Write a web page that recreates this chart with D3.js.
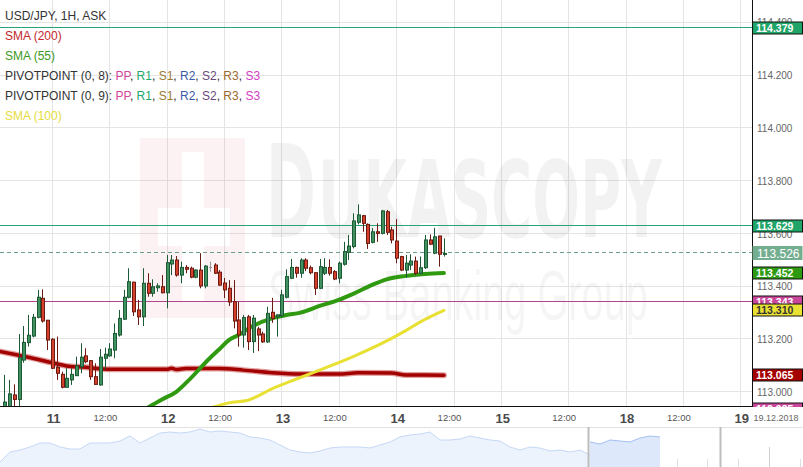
<!DOCTYPE html>
<html><head><meta charset="utf-8">
<script src="https://cdn.jsdelivr.net/npm/d3@7"></script>
<style>body{margin:0;background:#fff}svg{display:block;font-family:"Liberation Sans",Arial,sans-serif}</style>
</head><body><svg id="c" width="803" height="467"></svg>
<script>
// ---- DATA ----
const startHour = -10; // first visible candle, hours from 11 Dec 00:00 (weekend removed)
const opens = [112.941,112.933,112.990,112.973,113.122,113.188,113.213,113.284,113.356,113.273,
113.201,113.095,113.068,113.019,113.047,113.063,113.097,113.138,113.120,113.059,
113.028,113.129,113.138,113.160,113.217,113.277,113.360,113.417,113.312,113.286,
113.413,113.375,113.396,113.400,113.377,113.486,113.501,113.444,113.473,113.470,
113.436,113.463,113.403,113.476,113.482,113.455,113.414,113.394,113.343,113.274,
113.217,113.286,113.192,113.240,113.221,113.191,113.303,113.286,113.290,113.360,
113.432,113.473,113.451,113.501,113.472,113.453,113.394,113.451,113.473,113.457,
113.432,113.485,113.530,113.552,113.644,113.669,113.636,113.568,113.608,113.602,
113.684,113.615,113.573,113.514,113.463,113.482,113.497,113.451,113.472,113.577,
113.527,113.592,113.524];
const highs = [113.066,113.047,113.030,113.221,113.251,113.293,113.297,113.388,113.390,113.274,
113.205,113.211,113.078,113.091,113.091,113.135,113.186,113.167,113.122,113.110,
113.164,113.169,113.186,113.261,113.312,113.388,113.470,113.419,113.350,113.470,
113.451,113.428,113.413,113.444,113.520,113.520,113.516,113.495,113.482,113.476,
113.466,113.527,113.482,113.495,113.489,113.463,113.433,113.425,113.425,113.343,
113.293,113.293,113.293,113.248,113.230,113.324,113.358,113.295,113.388,113.466,
113.505,113.476,113.508,113.508,113.480,113.455,113.505,113.508,113.504,113.463,
113.495,113.570,113.596,113.678,113.712,113.672,113.640,113.622,113.640,113.691,
113.691,113.627,113.656,113.517,113.520,113.523,113.514,113.514,113.596,113.598,
113.623,113.593,113.583];
const lows = [112.914,112.925,112.933,112.937,113.112,113.173,113.208,113.280,113.264,113.160,
113.088,113.047,113.015,113.017,113.028,113.062,113.072,113.110,113.047,113.028,
113.025,113.087,113.135,113.129,113.211,113.274,113.356,113.289,113.255,113.251,
113.362,113.362,113.381,113.375,113.318,113.444,113.438,113.413,113.451,113.432,
113.432,113.394,113.394,113.457,113.448,113.403,113.357,113.327,113.242,113.173,
113.169,113.160,113.149,113.156,113.187,113.187,113.263,113.211,113.283,113.356,
113.429,113.434,113.434,113.459,113.447,113.369,113.391,113.444,113.442,113.425,
113.413,113.480,113.501,113.545,113.636,113.608,113.543,113.564,113.570,113.598,
113.596,113.564,113.489,113.459,113.434,113.463,113.444,113.447,113.467,113.558,
113.523,113.476,113.514];
const closes = [112.963,112.994,112.973,113.131,113.189,113.216,113.284,113.360,113.270,113.198,
113.091,113.072,113.019,113.053,113.068,113.100,113.133,113.116,113.059,113.030,
113.133,113.144,113.164,113.223,113.280,113.360,113.419,113.305,113.286,113.413,
113.375,113.400,113.403,113.377,113.491,113.501,113.444,113.473,113.466,113.436,
113.463,113.403,113.478,113.476,113.451,113.406,113.388,113.342,113.270,113.217,
113.283,113.192,113.281,113.217,113.191,113.299,113.280,113.293,113.369,113.438,
113.473,113.451,113.501,113.470,113.453,113.394,113.476,113.473,113.451,113.429,
113.489,113.533,113.554,113.649,113.672,113.640,113.564,113.608,113.602,113.687,
113.606,113.577,113.508,113.463,113.489,113.497,113.451,113.472,113.577,113.561,
113.589,113.523,113.526];

const sma200Hours = [-11,-5,0,3,7,10,13,24,25,26,28,35,40,46,52,60,64,71,74,82];
const sma200 = [113.155,113.133,113.112,113.100,113.095,113.089,113.087,113.087,113.091,113.086,113.090,113.090,113.084,113.074,113.069,113.069,113.074,113.073,113.066,113.065];
const sma55Hours = [20,23,26,29,33,35,37,39,42,46,49,52,56,60,63,67,70,74,78,82];
const sma55 = [112.942,112.973,113.002,113.053,113.129,113.163,113.198,113.217,113.251,113.280,113.293,113.302,113.327,113.350,113.373,113.407,113.428,113.441,113.448,113.452];
const sma100Hours = [32,37,41,46,50,56,63,73,77,82];
const sma100 = [112.933,112.960,112.970,113.013,113.042,113.084,113.135,113.223,113.266,113.310];

const pivotLevels = [114.379, 113.629, 113.343, 112.935];
const lastPrice = 113.526;

const priceTicks = [113.0,113.2,113.4,113.6,113.8,114.0,114.2,114.4];
const timeTickHours = [0,12,24,36,48,60,72,84,94,108,120,132,144];
const timeTickLabels = ["11","12:00","12","12:00","13","12:00","14","12:00","15","12:00","18","12:00","19"];
const dateLabel = "19.12.2018";

const legendTitle = "USD/JPY, 1H, ASK";
const pivotNames = ["PP","R1","S1","R2","S2","R3","S3"];
const pivotColors = ["#d2489c","#22a86c","#9c7a30","#3a5aa8","#6a4a7c","#9c6c2c","#d23ec2"];

const navPast = [5,15,17,20,24,24,20,18,18,24,24,24,26,31,24,29,34,35,34,35,38,35,36,35,34,30,29,27,22,17,15,14,16,19,20,20,20,19,22,25,30,32,33,35,27,27,28,31,29,27,26,20,17,20,19,16,17,15,17,12];
const navRecent = [25,23,27,26,25,29,31,30];

// ---- DRAW ----
const W = 803, H = 467, plotR = 752, plotB = 406;
const svg = d3.select("#c");
const x = d3.scaleLinear().domain([0,144]).range([52,740.3]);
const y = d3.scaleLinear().domain([113,114.4]).range([392.3,22.7]);
const snap = v => Math.round(v) + 0.5;

svg.append("rect").attr("width",W).attr("height",H).attr("fill","#fff");
const defs = svg.append("defs");
defs.append("clipPath").attr("id","plot").append("rect").attr("x",0).attr("y",0).attr("width",plotR).attr("height",plotB);
defs.append("clipPath").attr("id","raxis").append("rect").attr("x",plotR).attr("y",0).attr("width",W-plotR).attr("height",407);

// grid
const grid = svg.append("g").attr("clip-path","url(#plot)").attr("stroke","#e4e4e4").attr("stroke-width",1);
grid.selectAll("line.h").data(priceTicks).join("line").attr("class","h")
  .attr("x1",0).attr("x2",plotR).attr("y1",d=>snap(y(d))-1).attr("y2",d=>snap(y(d))-1);
grid.selectAll("line.v").data(timeTickHours).join("line").attr("class","v")
  .attr("y1",0).attr("y2",plotB).attr("x1",d=>snap(x(d))).attr("x2",d=>snap(x(d)));

// watermark (squeezed horizontally with a transform so the text box matches what is drawn)
const wm = svg.append("g").attr("font-family","DejaVu Sans, Liberation Sans, sans-serif");
wm.append("path")
  .attr("d","M140,138h105v180h-105Z M182,152h22v56h26v38h-26v56h-22v-56h-24v-38h24Z")
  .attr("fill","rgba(225,40,50,0.06)").attr("fill-rule","evenodd");
function squeezed(txt, x0, y0, size, width, weight, alpha, family){
  const t = wm.append("text").attr("font-size",size).attr("font-weight",weight)
    .attr("fill",`rgba(0,0,0,${alpha})`).text(txt);
  if (family) t.attr("font-family",family);
  const natural = t.node().getComputedTextLength() || width;
  t.attr("transform",`translate(${x0},${y0}) scale(${width/natural},1)`);
}
squeezed("D",266,237,128,50,"bold",0.05);
squeezed("UKASCOPY",318,237,106,344,"bold",0.05);
squeezed("Swiss Banking Group",268,320,70,380,"normal",0.04,"Liberation Sans, Arial, sans-serif");

// pivot lines
const pl = svg.append("g").attr("clip-path","url(#plot)");
const pivotLineColors = ["#2aa275","#2aa275","#b2458f","#c9479b"];
pivotLevels.forEach((v,i)=>{
  pl.append("line").attr("x1",0).attr("x2",plotR).attr("y1",snap(y(v))-1).attr("y2",snap(y(v))-1)
    .attr("stroke",pivotLineColors[i]).attr("stroke-width",1);
});
pl.append("line").attr("x1",0).attr("x2",plotR).attr("y1",snap(y(lastPrice))-1).attr("y2",snap(y(lastPrice))-1)
  .attr("stroke","#6d9f86").attr("stroke-dasharray","4,3");

// SMA lines
const lines = svg.append("g").attr("clip-path","url(#plot)").attr("fill","none").attr("stroke-linejoin","round").attr("stroke-linecap","round");
const mk = (hours, vals) => hours.map((h,i)=>({h, v: vals[i]}));
const lineGen = d3.line().x(d=>x(d.h)).y(d=>y(d.v)).curve(d3.curveMonotoneX);
lines.append("path").attr("d",lineGen(mk(sma200Hours,sma200))).attr("stroke","rgba(190,40,40,0.45)").attr("stroke-width",6);
lines.append("path").attr("d",lineGen(mk(sma200Hours,sma200))).attr("stroke","#a30000").attr("stroke-width",3.5);
lines.append("path").attr("d",lineGen(mk(sma55Hours,sma55))).attr("stroke","#2f9a10").attr("stroke-width",4);
lines.append("path").attr("d",lineGen(mk(sma100Hours,sma100))).attr("stroke","#e8e033").attr("stroke-width",3);

// candles
const cg = svg.append("g").attr("clip-path","url(#plot)");
const candles = opens.map((o,i)=>({h:startHour+i,o,hi:highs[i],lo:lows[i],c:closes[i]}));
const col = d => d.c > d.o ? {f:"#41905f",s:"#1c5a35"} : d.c < d.o ? {f:"#d4412c",s:"#6b1a12"} : {f:"#999",s:"#999"};
candles.forEach(d=>{
  const R = Math.round(x(d.h));
  const k = col(d);
  cg.append("line").attr("x1",R+0.5).attr("x2",R+0.5).attr("y1",y(d.hi)).attr("y2",y(d.lo)).attr("stroke",k.s).attr("stroke-width",1);
  if (d.o === d.c) {
    cg.append("line").attr("x1",R-1).attr("x2",R+2).attr("y1",snap(y(d.o))).attr("y2",snap(y(d.o))).attr("stroke",k.s);
  } else {
    const top = y(Math.max(d.o,d.c)), bot = y(Math.min(d.o,d.c));
    cg.append("rect").attr("x",R-0.5).attr("width",3).attr("y",top).attr("height",Math.max(1,bot-top))
      .attr("fill",k.f).attr("stroke",k.s).attr("stroke-width",1);
  }
});

// axes lines
svg.append("line").attr("x1",0).attr("x2",plotR+1).attr("y1",plotB+0.5).attr("y2",plotB+0.5).attr("stroke","#111");
svg.append("line").attr("x1",plotR+0.5).attr("x2",plotR+0.5).attr("y1",0).attr("y2",407).attr("stroke","#111");

// price axis
const ya = svg.append("g").attr("transform",`translate(${plotR},0)`)
  .call(d3.axisRight(y).tickValues(priceTicks).tickFormat(d3.format(".3f")).tickSize(0).tickPadding(5));
ya.select(".domain").remove();
ya.selectAll("text").attr("font-size",10).attr("fill","#666").attr("font-family","Liberation Sans, Arial, sans-serif");

// time axis
const xa = svg.append("g").attr("transform",`translate(0,${plotB})`)
  .call(d3.axisBottom(x).tickValues(timeTickHours).tickFormat((d,i)=>timeTickLabels[i]).tickSize(0));
xa.select(".domain").remove();
xa.selectAll("text").each(function(d,i){
  const isDay = timeTickLabels[i] !== "12:00";
  d3.select(this).attr("dy",0).attr("y",isDay?16.5:15)
    .attr("dx",isDay?1:-4.5)
    .attr("font-size",isDay?13:9.5).attr("font-weight",isDay?"bold":"normal")
    .attr("fill",isDay?"#4a4a4a":"#555").attr("font-family","Liberation Sans, Arial, sans-serif");
});
svg.append("text").attr("x",776).attr("y",421).attr("text-anchor","middle").attr("font-size",9).attr("fill","#666").text(dateLabel);

// legend
const legend = svg.append("g").attr("font-size",12);
legend.append("text").attr("x",5).attr("y",20).attr("fill","#333").text(legendTitle);
legend.append("text").attr("x",5).attr("y",40).attr("fill","#c4282b").text("SMA (200)");
legend.append("text").attr("x",5).attr("y",60).attr("fill","#3c9a22").text("SMA (55)");
["PIVOTPOINT (0, 8): ","PIVOTPOINT (0, 9): "].forEach((lab,r)=>{
  const t = legend.append("text").attr("x",5).attr("y",80+20*r).attr("fill","#333");
  t.append("tspan").text(lab);
  pivotNames.forEach((n,i)=>{
    t.append("tspan").attr("fill",pivotColors[i]).text(n);
    if (i < pivotNames.length-1) t.append("tspan").attr("fill","#333").text(", ");
  });
});
legend.append("text").attr("x",5).attr("y",120).attr("fill","#e6dc3c").text("SMA (100)");

// right value labels
const rl = svg.append("g").attr("clip-path","url(#raxis)").attr("font-family","Liberation Sans, Arial, sans-serif");
const tags = [
  {v:pivotLevels[0], f:"#20a468", t:"#fff", s:"#111"},
  {v:pivotLevels[1], f:"#20a468", t:"#fff", s:"#111"},
  {v:lastPrice, f:"#74ae90", t:"#fff", s:"none", big:true},
  {v:sma55[sma55.length-1], f:"#2e9a12", t:"#fff", s:"#111"},
  {v:pivotLevels[2], f:"#c9479b", t:"#fff", s:"#111"},
  {v:sma100[sma100.length-1], f:"#e9e233", t:"#333", s:"#111"},
  {v:sma200[sma200.length-1], f:"#a50000", t:"#fff", s:"#111"},
  {v:pivotLevels[3], f:"#c9479b", t:"#fff", s:"#111"}
];
tags.forEach(g=>{
  const cy = Math.round(y(g.v));
  const h = g.big ? 15 : 13;
  rl.append("rect").attr("x",752.5).attr("y",cy-h/2+0.5).attr("width",50).attr("height",h-1)
    .attr("fill",g.f).attr("stroke",g.s);
  rl.append("text").attr("x",g.big?757:756).attr("y",cy+(g.big?4.5:4)).attr("font-size",g.big?12:10.5)
    .attr("font-weight",g.big?"normal":"bold").attr("fill",g.t).text(d3.format(".3f")(g.v));
});

// navigator
svg.append("line").attr("x1",0).attr("x2",W).attr("y1",427.5).attr("y2",427.5).attr("stroke","#e2e2e2");
const nx = d3.scaleLinear().domain([0,66]).range([0,660]);
const ny = d3.scaleLinear().domain([0,40]).range([467,427]);
const navTicks = d3.range(0,26);
const ntx = d3.scaleLinear().domain([0,25]).range([32,799.5]);
svg.append("g").selectAll("line").data(navTicks).join("line")
  .attr("x1",d=>snap(ntx(d))).attr("x2",d=>snap(ntx(d)))
  .attr("y1",d=>[4,14,19,24].includes(d)?447:459).attr("y2",467)
  .attr("stroke",d=>[4,14,19,24].includes(d)?"#d0d0d0":"#e0e0e0");
const area = d3.area().x(d=>nx(d.i)).y0(467).y1(d=>ny(d.v));
const aline = d3.line().x(d=>nx(d.i)).y(d=>ny(d.v));
const pastD = navPast.map((v,i)=>({i,v}));
const recD = navRecent.map((v,i)=>({i:i+59,v}));
svg.append("path").attr("d",area(pastD)).attr("fill","#edf3fd");
svg.append("path").attr("d",aline(pastD)).attr("fill","none").attr("stroke","#c5d8f6");
svg.append("path").attr("d",area(recD)).attr("fill","#dde8fb");
svg.append("path").attr("d",aline(recD)).attr("fill","none").attr("stroke","#a3c1f0");
svg.append("line").attr("x1",nx(58.85)).attr("x2",nx(58.85)).attr("y1",427).attr("y2",467).attr("stroke","#bdbdbd").attr("stroke-width",2);
svg.append("line").attr("x1",720.5).attr("x2",720.5).attr("y1",427).attr("y2",467).attr("stroke","#bdbdbd").attr("stroke-width",2);
</script></body></html>
